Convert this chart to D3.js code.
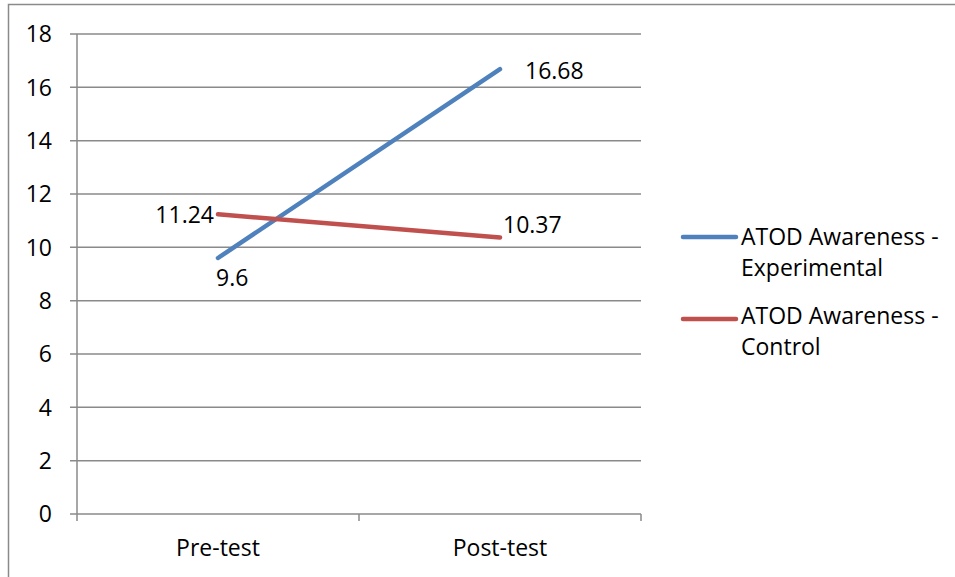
<!DOCTYPE html>
<html lang="en">
<head>
<meta charset="UTF-8">
<script src="https://d3js.org/d3.v7.min.js"></script>
<style>
  body { margin: 0; padding: 0; background: #fff; }
  text { font-family: "Open Sans", Arial, sans-serif; fill: #000; }
</style>
</head>
<body>
<div id="chart"></div>
<script>
  const categories = ["Pre-test", "Post-test"];
  const seriesNames = ["ATOD Awareness - Experimental", "ATOD Awareness - Control"];
  const experimental = [9.6, 16.68];
  const control = [11.24, 10.37];
  const yTicks = [0, 2, 4, 6, 8, 10, 12, 14, 16, 18];

  const width = 955, height = 577;
  const margin = {left: 77, right: 314, top: 34, bottom: 63};
  const fs = 23;

  const svg = d3.select("#chart").append("svg")
    .attr("width", width).attr("height", height);

  // outer chart border (right/bottom run off the picture)
  svg.append("rect")
    .attr("x", 8.5).attr("y", 4.5)
    .attr("width", 1000).attr("height", 700)
    .attr("fill", "none").attr("stroke", "#8a8a8a").attr("stroke-width", 1.5);

  const x = d3.scaleBand().domain(categories)
    .range([margin.left, width - margin.right]);
  const y = d3.scaleLinear().domain([0, 18])
    .range([height - margin.bottom, margin.top]);

  // gridlines
  svg.append("g").selectAll("line").data(yTicks).enter().append("line")
    .attr("x1", margin.left - 7).attr("x2", width - margin.right)
    .attr("y1", d => y(d)).attr("y2", d => y(d))
    .attr("stroke", "#8a8a8a").attr("stroke-width", 1.5);

  // y axis line
  svg.append("line")
    .attr("x1", margin.left).attr("x2", margin.left)
    .attr("y1", y(18)).attr("y2", y(0) + 7)
    .attr("stroke", "#8a8a8a").attr("stroke-width", 1.5);

  // x ticks at band edges
  const edges = categories.map(c => x(c)).concat([x(categories[1]) + x.bandwidth()]);
  svg.append("g").selectAll("line").data(edges.slice(1)).enter().append("line")
    .attr("x1", d => d).attr("x2", d => d)
    .attr("y1", y(0)).attr("y2", y(0) + 7)
    .attr("stroke", "#8a8a8a").attr("stroke-width", 1.5);

  // y labels
  svg.append("g").selectAll("text").data(yTicks).enter().append("text")
    .attr("x", 52).attr("y", d => y(d))
    .attr("dy", "0.36em").attr("text-anchor", "end")
    .attr("font-size", fs)
    .text(d => d);

  // x labels
  svg.append("g").selectAll("text").data(categories).enter().append("text")
    .attr("x", d => x(d) + x.bandwidth() / 2).attr("y", 548)
    .attr("dy", "0.36em").attr("text-anchor", "middle")
    .attr("font-size", fs)
    .text(d => d);

  const colors = ["#4f81bd", "#c0504d"];
  const allSeries = [experimental, control];
  const line = d3.line()
    .x((d, i) => x(categories[i]) + x.bandwidth() / 2)
    .y(d => y(d));

  allSeries.forEach((s, k) => {
    svg.append("path").datum(s)
      .attr("d", line)
      .attr("fill", "none").attr("stroke", colors[k])
      .attr("stroke-width", 4.5).attr("stroke-linecap", "round");
  });

  // data labels
  const cx = i => x(categories[i]) + x.bandwidth() / 2;
  const labels = [
    {v: experimental[0], i: 0, dx: -2, dy: 20, anchor: "start"},
    {v: experimental[1], i: 1, dx: 25, dy: 2, anchor: "start"},
    {v: control[0], i: 0, dx: -4, dy: 0, anchor: "end"},
    {v: control[1], i: 1, dx: 3, dy: -13, anchor: "start"}
  ];
  svg.append("g").selectAll("text").data(labels).enter().append("text")
    .attr("x", d => cx(d.i) + d.dx).attr("y", d => y(d.v) + d.dy)
    .attr("dy", "0.36em").attr("text-anchor", d => d.anchor)
    .attr("font-size", fs)
    .text(d => d.v);

  // legend
  const legendLines = [["ATOD Awareness -", "Experimental"], ["ATOD Awareness -", "Control"]];
  const legend = svg.append("g");
  legendLines.forEach((lines, k) => {
    const ly = 237 + k * 82;
    legend.append("line")
      .attr("x1", 683).attr("x2", 736)
      .attr("y1", ly).attr("y2", ly)
      .attr("stroke", colors[k]).attr("stroke-width", 4.5).attr("stroke-linecap", "round");
    lines.forEach((t, j) => {
      legend.append("text")
        .attr("x", 741).attr("y", ly + j * 31 - (k ? 3 : 0))
        .attr("dy", "0.36em").attr("font-size", fs)
        .text(t);
    });
  });
</script>
</body>
</html>
